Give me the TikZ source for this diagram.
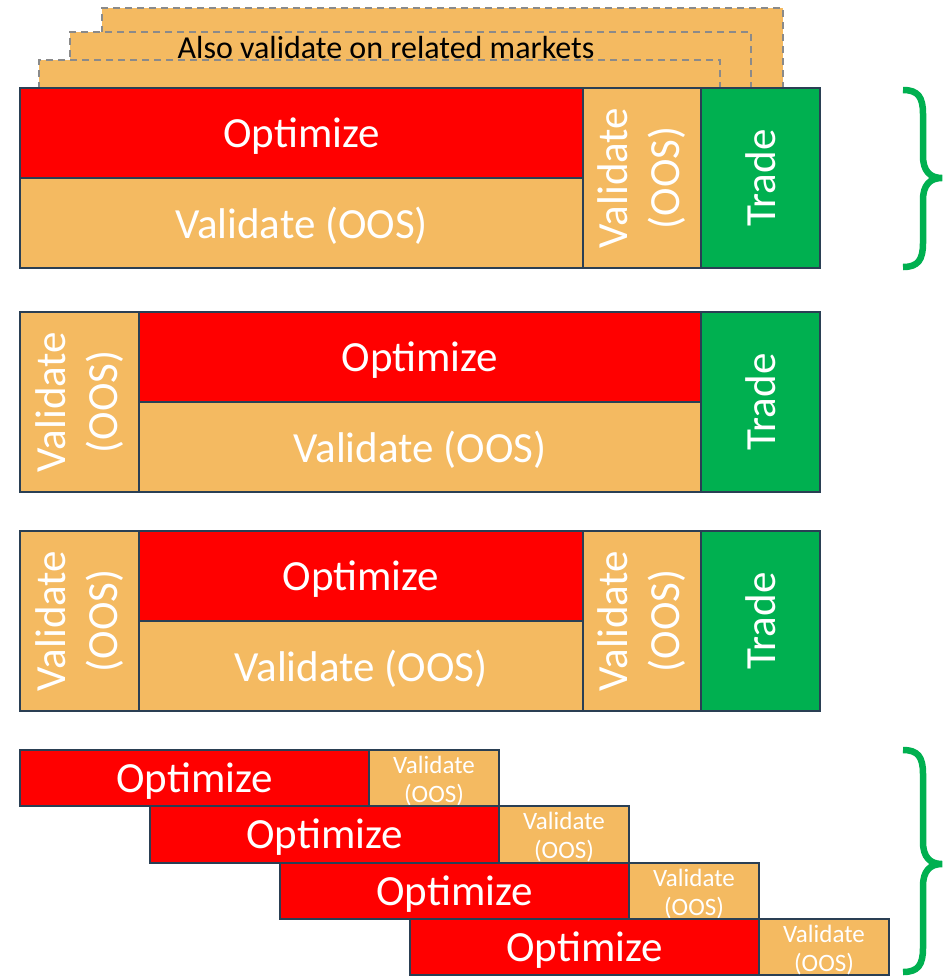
\documentclass[tikz,border=0pt]{standalone}
\usepackage{fontspec}
\setmainfont{Carlito}
\definecolor{optred}{HTML}{FF0000}
\definecolor{valgold}{HTML}{F4BA61}
\definecolor{tradegreen}{HTML}{00B050}
\definecolor{edgeblue}{HTML}{2A3F54}
\definecolor{dashgray}{HTML}{8A8A8A}
\definecolor{bracegreen}{HTML}{00B050}
\tikzset{
  blk/.style={draw=edgeblue, line width=2pt, inner sep=0pt, text=white, align=center},
  bigfont/.style={font=\fontsize{43}{52}\selectfont},
  lowered/.style={text depth=0pt, text height=0pt},
  optbox/.style={blk, fill=optred, bigfont},
  valbox/.style={blk, fill=valgold, bigfont},
  valrot/.style={blk, fill=valgold, bigfont, rotate=90},
  tradebox/.style={blk, fill=tradegreen, bigfont, rotate=90},
  valsmall/.style={blk, fill=valgold, font=\fontsize{25}{29}\selectfont},
  ghost/.style={draw=dashgray, dash pattern=on 7pt off 5pt, line width=2pt, fill=valgold, inner sep=0pt},
  brc/.style={draw=bracegreen, line width=6.5pt, line join=miter}
}
% block: name, x1, y1, x2, y2, style, text
\newcommand\blk[7]{\node[#6, minimum width={#4pt-#2pt}, minimum height={#5pt-#3pt}]
  (#1) at ({(#2+#4)/2},{(#3+#5)/2}) {#7};}
% horizontal block whose label sits slightly below centre
\newcommand\hblk[7]{\node[#6, minimum width={#4pt-#2pt}, minimum height={#5pt-#3pt}]
  (#1) at ({(#2+#4)/2},{(#3+#5)/2}) {};
  \node[text=white, align=center, #6, draw=none, fill=none, minimum width=0pt, minimum height=0pt]
  (#1-t) at ({(#2+#4)/2},{(#3+#5)/2+3}) {#7};}
% rotated block: width and height swap
\newcommand\rblk[7]{\node[#6, minimum width={#5pt-#3pt}, minimum height={#4pt-#2pt}]
  (#1) at ({(#2+#4)/2},{(#3+#5)/2}) {#7};}
\begin{document}
\begin{tikzpicture}[x=1pt, y=-1pt]
\useasboundingbox (0,0) rectangle (945,977);

% stacked markets behind the first row
\blk{mkC}{102}{8}{783}{92}{ghost}{}
\blk{mkB}{70}{32}{751}{92}{ghost}{}
\blk{mkA}{39}{60}{720}{92}{ghost}{}
\node[font=\fontsize{32}{38}\selectfont, text=black] (alsotxt) at (386,48) {Also validate on related markets};

% row 1
\hblk{aopt}{20}{88}{583}{178}{optbox}{Optimize}
\hblk{aval}{20}{178}{583}{268}{valbox}{Validate (OOS)}
\rblk{avr}{583}{88}{701}{268}{valrot}{Validate\\(OOS)}
\rblk{atr}{701}{88}{820}{268}{tradebox}{Trade}

% row 2
\rblk{bvl}{20}{312}{139}{492}{valrot}{Validate\\(OOS)}
\hblk{bopt}{139}{312}{701}{402}{optbox}{Optimize}
\hblk{bval}{139}{402}{701}{492}{valbox}{Validate (OOS)}
\rblk{btr}{701}{312}{820}{492}{tradebox}{Trade}

% row 3
\rblk{cvl}{20}{531}{139}{711}{valrot}{Validate\\(OOS)}
\hblk{copt}{139}{531}{583}{621}{optbox}{Optimize}
\hblk{cval}{139}{621}{583}{711}{valbox}{Validate (OOS)}
\rblk{cvr}{583}{531}{701}{711}{valrot}{Validate\\(OOS)}
\rblk{ctr}{701}{531}{820}{711}{tradebox}{Trade}

% walk-forward staircase
\hblk{d1o}{20}{750}{369}{806}{optbox}{Optimize}
\hblk{d1v}{369}{750}{499}{806}{valsmall}{Validate\\(OOS)}
\hblk{d2o}{150}{806}{499}{863}{optbox}{Optimize}
\hblk{d2v}{499}{806}{629}{863}{valsmall}{Validate\\(OOS)}
\hblk{d3o}{280}{863}{629}{919}{optbox}{Optimize}
\hblk{d3v}{629}{863}{759}{919}{valsmall}{Validate\\(OOS)}
\hblk{d4o}{410}{919}{759}{975}{optbox}{Optimize}
\hblk{d4v}{759}{919}{889}{975}{valsmall}{Validate\\(OOS)}

% braces
\coordinate (b1top) at (903,90);
\coordinate (b1tip) at (942,178);
\coordinate (b1bot) at (903,267);
\draw[brc] (b1top) .. controls (918,90) and (923,97) .. (923,114) -- (923,156)
  .. controls (923,171) and (930,178) .. (b1tip)
  .. controls (930,178) and (923,185) .. (923,200) -- (923,243)
  .. controls (923,260) and (918,267) .. (b1bot);
\coordinate (b2top) at (903,750);
\coordinate (b2tip) at (942,864);
\coordinate (b2bot) at (903,972);
\draw[brc] (b2top) .. controls (918,750) and (923,757) .. (923,774) -- (923,842)
  .. controls (923,857) and (930,864) .. (b2tip)
  .. controls (930,864) and (923,871) .. (923,886) -- (923,948)
  .. controls (923,965) and (918,972) .. (b2bot);
\end{tikzpicture}
\end{document}
